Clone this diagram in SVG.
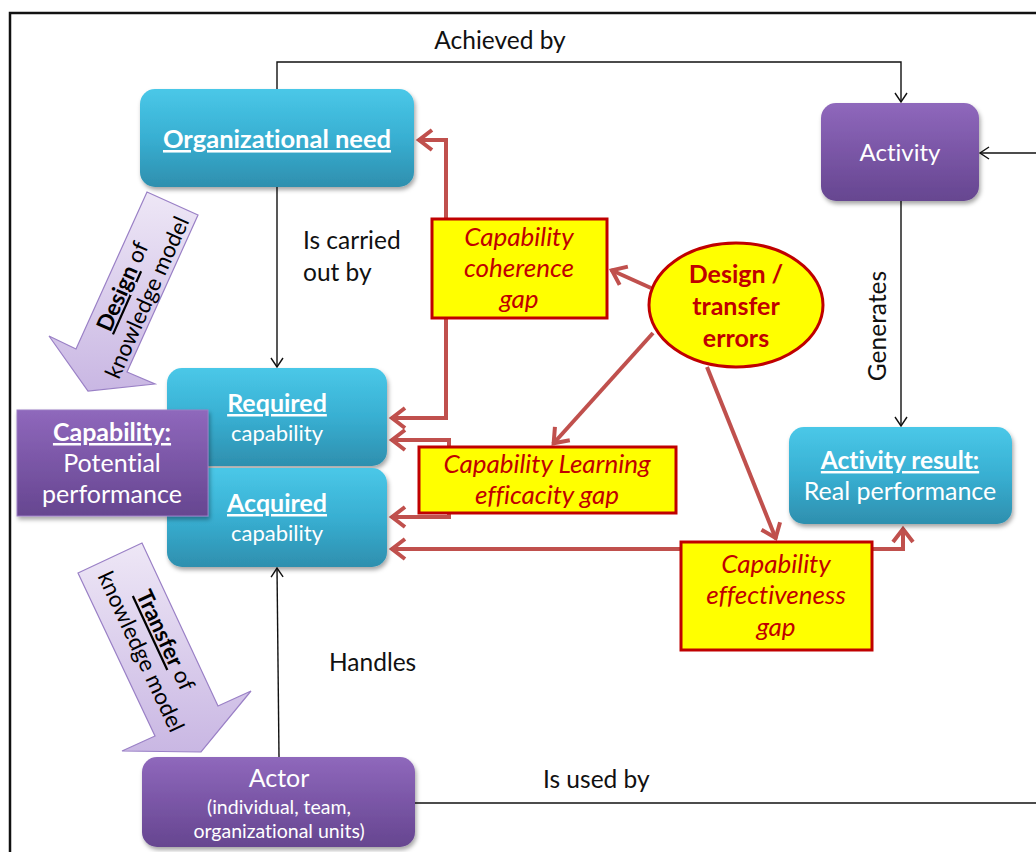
<svg xmlns="http://www.w3.org/2000/svg" width="1036" height="852" viewBox="0 0 1036 852">
<style>
text{font-family:Lato,"Open Sans","Liberation Sans",sans-serif;font-variant-ligatures:none}
.lbl{font-size:24.5px;fill:#111}
.wt{fill:#fff;text-anchor:middle}
.b{font-weight:bold;text-decoration:underline}
.gap{font-size:26px;font-style:italic;fill:#C00000;text-anchor:middle}
.yel{fill:#FFFF00;stroke:#C00000;stroke-width:3}
.blk{fill:none;stroke:#111;stroke-width:1.4}
.red{fill:none;stroke:#C0504D;stroke-width:4;stroke-linejoin:miter}
.arr{fill:url(#lav);stroke:#9A80C6;stroke-width:1.2}
.arrt{font-size:22.5px;fill:#000;text-anchor:middle}
</style>
<defs>
<linearGradient id="teal" x1="0" y1="0" x2="0" y2="1">
<stop offset="0" stop-color="#4AC8E8"/><stop offset="0.5" stop-color="#38AFD2"/><stop offset="1" stop-color="#2E8FAE"/>
</linearGradient>
<linearGradient id="purp" x1="0" y1="0" x2="0" y2="1">
<stop offset="0" stop-color="#8F68BC"/><stop offset="0.5" stop-color="#7A56A6"/><stop offset="1" stop-color="#664690"/>
</linearGradient>
<linearGradient id="lav" x1="0" y1="0" x2="0" y2="1">
<stop offset="0" stop-color="#EEE7F6"/><stop offset="1" stop-color="#C9B7E3"/>
</linearGradient>
<filter id="sh" x="-10%" y="-10%" width="125%" height="135%">
<feDropShadow dx="1.5" dy="3" stdDeviation="2" flood-color="#000" flood-opacity="0.35"/>
</filter>
<marker id="ba" markerUnits="userSpaceOnUse" viewBox="-12 -8 14 16" markerWidth="14" markerHeight="16" refX="0" refY="0" orient="auto">
<path d="M-9,-6 L0,0 L-9,6" fill="none" stroke="#111" stroke-width="1.4"/>
</marker>
<marker id="ra" markerUnits="userSpaceOnUse" viewBox="-20 -16 24 32" markerWidth="24" markerHeight="32" refX="0" refY="0" orient="auto">
<path d="M-14,-10 L-1,0 L-14,10" fill="none" stroke="#C0504D" stroke-width="4"/>
</marker>
</defs>

<path id="frame" d="M10,852 V13 H1036" fill="none" stroke="#111" stroke-width="2.5"/>

<g id="design-arrow">
<polygon class="arr" points="147,192 198,215 127,372 155,384 88,391 49,336 76,349"/>
<g transform="translate(135,292) rotate(-66)">
<text class="arrt" y="-6"><tspan font-weight="bold" text-decoration="underline">Design</tspan> of</text>
<text class="arrt" y="21">knowledge model</text>
</g>
</g>

<g id="transfer-arrow">
<polygon class="arr" points="78,573 142,543 218,706 251,691 201,752 122,751 155,736"/>
<g transform="translate(153,646) rotate(65)">
<text class="arrt" y="-6"><tspan font-weight="bold" text-decoration="underline">Transfer</tspan> of</text>
<text class="arrt" y="21">knowledge model</text>
</g>
</g>

<g id="connectors">
<path class="blk" d="M277,89 V62 H901 V102" marker-end="url(#ba)"/>
<path class="blk" d="M277,187 V367" marker-end="url(#ba)"/>
<path class="blk" d="M279,757 L277,568" marker-end="url(#ba)"/>
<path class="blk" d="M901,201 V426" marker-end="url(#ba)"/>
<path class="blk" d="M1036,153 H980" marker-end="url(#ba)"/>
<path class="blk" d="M415,803 H1036"/>
<path class="red" d="M446,219 V140 H418" marker-end="url(#ra)"/>
<path class="red" d="M446,318 V418 H391" marker-end="url(#ra)"/>
<path class="red" d="M449,447 V440 H391" marker-end="url(#ra)"/>
<path class="red" d="M449,513 V517 H391" marker-end="url(#ra)"/>
<path class="red" d="M681,549 H391" marker-end="url(#ra)"/>
<path class="red" d="M872,549 H903 V528" marker-end="url(#ra)"/>
<path class="red" d="M651,288 L611,270" marker-end="url(#ra)"/>
<path class="red" d="M653,333 L553,444" marker-end="url(#ra)"/>
<path class="red" d="M707,367 L776,539" marker-end="url(#ra)"/>
<text class="lbl" x="500" y="49" text-anchor="middle">Achieved by</text>
<text class="lbl" x="303" y="249">Is carried</text>
<text class="lbl" x="303" y="281">out by</text>
<text class="lbl" x="329" y="671">Handles</text>
<text class="lbl" x="543" y="788">Is used by</text>
<text class="lbl" transform="translate(886,326) rotate(-90)" text-anchor="middle" font-size="25.5">Generates</text>
</g>

<g id="org-need">
<rect x="140" y="89" width="274" height="98" rx="15" fill="url(#teal)" filter="url(#sh)"/>
<text class="wt b" x="277" y="148" font-size="25.5">Organizational  need</text>
</g>

<g id="activity">
<rect x="821" y="103" width="158" height="98" rx="15" fill="url(#purp)" filter="url(#sh)"/>
<text class="wt" x="900" y="161" font-size="24">Activity</text>
</g>

<g id="activity-result">
<rect x="789" y="427" width="223" height="97" rx="15" fill="url(#teal)" filter="url(#sh)"/>
<text class="wt b" x="900" y="469" font-size="24.5">Activity result:</text>
<text class="wt" x="900" y="500" font-size="25">Real performance</text>
</g>

<g id="required">
<rect x="167" y="368" width="220" height="98" rx="15" fill="url(#teal)" filter="url(#sh)"/>
<text class="wt b" x="277" y="412" font-size="25">Required</text>
<text class="wt" x="277" y="441" font-size="22">capability</text>
</g>

<g id="acquired">
<rect x="167" y="468" width="220" height="99" rx="15" fill="url(#teal)" filter="url(#sh)"/>
<text class="wt b" x="277" y="512" font-size="25">Acquired</text>
<text class="wt" x="277" y="541" font-size="22">capability</text>
</g>

<g id="capability">
<rect x="17" y="410" width="191" height="106" fill="url(#purp)" stroke="#9B7CC4" stroke-width="1" filter="url(#sh)"/>
<text class="wt b" x="112" y="441" font-size="25">Capability:</text>
<text class="wt" x="112" y="472" font-size="25">Potential</text>
<text class="wt" x="112" y="503" font-size="25">performance</text>
</g>

<g id="actor">
<rect x="142" y="757" width="273" height="90" rx="15" fill="url(#purp)" filter="url(#sh)"/>
<text class="wt" x="279" y="787" font-size="25">Actor</text>
<text class="wt" x="279" y="814" font-size="19.5">(individual, team,</text>
<text class="wt" x="279" y="838" font-size="19.5">organizational units)</text>
</g>

<g id="coherence-gap">
<rect class="yel" x="432" y="219" width="175" height="99"/>
<text class="gap" x="519" y="246">Capability</text>
<text class="gap" x="519" y="277">coherence</text>
<text class="gap" x="519" y="308">gap</text>
</g>

<g id="efficacity-gap">
<rect class="yel" x="419" y="447" width="257" height="66"/>
<text class="gap" x="547" y="473">Capability Learning</text>
<text class="gap" x="547" y="504">efficacity gap</text>
</g>

<g id="effectiveness-gap">
<rect class="yel" x="681" y="542" width="191" height="108"/>
<text class="gap" x="776" y="573">Capability</text>
<text class="gap" x="776" y="604">effectiveness</text>
<text class="gap" x="776" y="636">gap</text>
</g>

<g id="errors">
<ellipse class="yel" cx="736" cy="305" rx="87" ry="62"/>
<text x="736" y="283" font-size="25" font-weight="bold" fill="#C00000" text-anchor="middle">Design /</text>
<text x="736" y="315" font-size="25" font-weight="bold" fill="#C00000" text-anchor="middle">transfer</text>
<text x="736" y="347" font-size="25" font-weight="bold" fill="#C00000" text-anchor="middle">errors</text>
</g>
</svg>
